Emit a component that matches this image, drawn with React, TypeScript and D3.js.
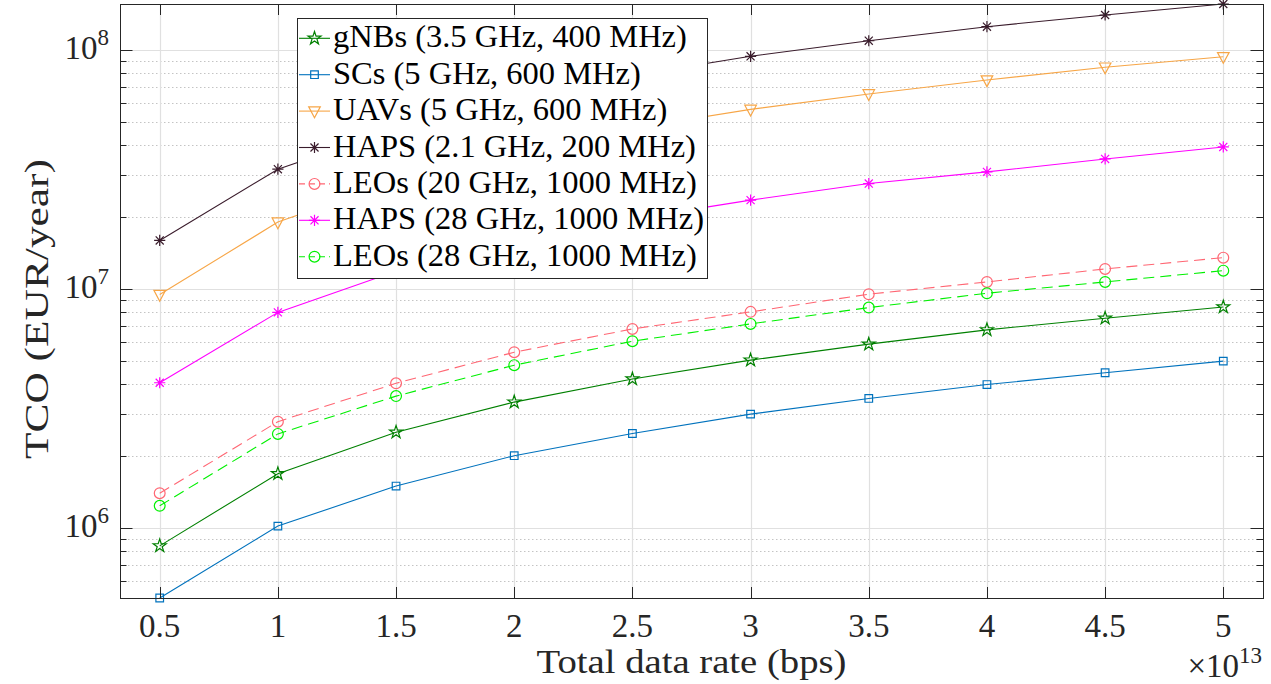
import React from "react";
import * as d3 from "d3";

// Total data rate, in units of 1e13 bps
const rates = [0.5, 1, 1.5, 2, 2.5, 3, 3.5, 4, 4.5, 5];
const rateTickLabels = ["0.5", "1", "1.5", "2", "2.5", "3", "3.5", "4", "4.5", "5"];

// TCO (EUR/year)
const gnbs = [8.43e5, 1.69e6, 2.52e6, 3.37e6, 4.21e6, 5.05e6, 5.89e6, 6.76e6, 7.56e6, 8.43e6];
const scs = [5.1e5, 1.02e6, 1.5e6, 2.01e6, 2.49e6, 3.0e6, 3.49e6, 3.99e6, 4.47e6, 5.0e6];
const uavs = [9.5e6, 1.91e7, 2.84e7, 3.77e7, 4.72e7, 5.66e7, 6.57e7, 7.51e7, 8.5e7, 9.4e7];
const haps21 = [1.6e7, 3.18e7, 4.7e7, 6.3e7, 7.85e7, 9.44e7, 1.097e8, 1.256e8, 1.406e8, 1.563e8];
const leos20 = [1.4e6, 2.79e6, 4.04e6, 5.45e6, 6.82e6, 8.04e6, 9.53e6, 1.073e7, 1.216e7, 1.356e7];
const haps28 = [4.06e6, 8.0e6, 1.19e7, 1.58e7, 1.97e7, 2.36e7, 2.77e7, 3.1e7, 3.51e7, 3.94e7];
const leos28 = [1.24e6, 2.48e6, 3.57e6, 4.81e6, 6.06e6, 7.16e6, 8.38e6, 9.62e6, 1.073e7, 1.196e7];

const yMajorExps = [6, 7, 8];

const SERIES = [
  { name: "gNBs (3.5 GHz, 400 MHz)", values: gnbs, color: "#008000", marker: "star", dash: null },
  { name: "SCs (5 GHz, 600 MHz)", values: scs, color: "#0072BD", marker: "square", dash: null },
  { name: "UAVs (5 GHz, 600 MHz)", values: uavs, color: "#F7A647", marker: "tri", dash: null },
  { name: "HAPS (2.1 GHz, 200 MHz)", values: haps21, color: "#3A1C2C", marker: "asterisk", dash: null },
  { name: "LEOs (20 GHz, 1000 MHz)", values: leos20, color: "#FF6673", marker: "circle", dash: "11,6" },
  { name: "HAPS (28 GHz, 1000 MHz)", values: haps28, color: "#FF00FF", marker: "asterisk", dash: null },
  { name: "LEOs (28 GHz, 1000 MHz)", values: leos28, color: "#00F000", marker: "circle", dash: "11,6" },
];

const W = 1271;
const H = 684;
const BOX = { left: 120, right: 1263, top: 4, bottom: 598 };
const X_LIMITS = [0.332, 5.168];
const FONT = "Liberation Serif, Times New Roman, serif";
const AXIS_COLOR = "#262626";

function drawMarker(g, kind, color) {
  if (kind === "circle") {
    g.append("circle").attr("r", 5.4).attr("fill", "none").attr("stroke", color).attr("stroke-width", 1.2);
  } else if (kind === "square") {
    g.append("path").attr("d", d3.symbol(d3.symbolSquare, 58)()).attr("fill", "none").attr("stroke", color).attr("stroke-width", 1.2);
  } else if (kind === "star") {
    g.append("path").attr("d", d3.symbol(d3.symbolStar, 52)()).attr("fill", "none").attr("stroke", color).attr("stroke-width", 1.2);
  } else if (kind === "tri") {
    g.append("path").attr("d", "M-5.8,-4.2L5.8,-4.2L0,6.6Z").attr("fill", "none").attr("stroke", color).attr("stroke-width", 1.2);
  } else if (kind === "asterisk") {
    const r = 5.6;
    const d = r * 0.72;
    g.append("path")
      .attr("d", `M0,${-r}V${r}M${-r},0H${r}M${-d},${-d}L${d},${d}M${-d},${d}L${d},${-d}`)
      .attr("fill", "none")
      .attr("stroke", color)
      .attr("stroke-width", 1.2);
  }
}

function TcoChart() {
  const ref = React.useRef(null);

  React.useEffect(() => {
    const all = SERIES.flatMap((s) => s.values);
    const x = d3.scaleLinear().domain(X_LIMITS).range([BOX.left, BOX.right]);
    const y = d3.scaleLog().domain(d3.extent(all)).range([BOX.bottom, BOX.top]);
    const [y0, y1] = y.domain();

    d3.select(ref.current).selectAll("*").remove();
    const svg = d3
      .select(ref.current)
      .append("svg")
      .attr("width", W)
      .attr("height", H)
      .attr("viewBox", [0, 0, W, H])
      .attr("font-family", FONT)
      .style("position", "absolute")
      .style("left", 0)
      .style("top", 0);

    svg.append("rect").attr("width", W).attr("height", H).attr("fill", "#fff");

    // minor y grid (dotted)
    const minors = [];
    for (let e = 5; e <= 8; e++) {
      for (let m = 2; m <= 9; m++) {
        const v = m * 10 ** e;
        if (v > y0 && v < y1) minors.push(v);
      }
    }
    const majors = yMajorExps.map((e) => 10 ** e);

    svg
      .append("g")
      .selectAll("line")
      .data(minors)
      .join("line")
      .attr("x1", BOX.left)
      .attr("x2", BOX.right)
      .attr("y1", (d) => Math.round(y(d)) + 0.5)
      .attr("y2", (d) => Math.round(y(d)) + 0.5)
      .attr("stroke", "#c4c4c4")
      .attr("stroke-width", 1)
      .attr("stroke-dasharray", "1.5,2.5");

    // major grid
    svg
      .append("g")
      .selectAll("line")
      .data(majors)
      .join("line")
      .attr("x1", BOX.left)
      .attr("x2", BOX.right)
      .attr("y1", (d) => Math.round(y(d)) + 0.5)
      .attr("y2", (d) => Math.round(y(d)) + 0.5)
      .attr("stroke", "#e0e0e0")
      .attr("stroke-width", 1.2);

    svg
      .append("g")
      .selectAll("line")
      .data(rates)
      .join("line")
      .attr("x1", (d) => Math.round(x(d)) + 0.5)
      .attr("x2", (d) => Math.round(x(d)) + 0.5)
      .attr("y1", BOX.top)
      .attr("y2", BOX.bottom)
      .attr("stroke", "#e0e0e0")
      .attr("stroke-width", 1.2);

    // series lines
    const line = d3
      .line()
      .x((d) => x(d[0]))
      .y((d) => y(d[1]));

    SERIES.forEach((s) => {
      const pts = rates.map((r, i) => [r, s.values[i]]);
      svg
        .append("path")
        .datum(pts)
        .attr("fill", "none")
        .attr("stroke", s.color)
        .attr("stroke-width", 1.1)
        .attr("stroke-dasharray", s.dash)
        .attr("d", line);
      svg
        .append("g")
        .selectAll("g")
        .data(pts)
        .join("g")
        .attr("transform", (d) => `translate(${x(d[0])},${y(d[1])})`)
        .each(function () {
          drawMarker(d3.select(this), s.marker, s.color);
        });
    });

    // axes box and ticks
    const ax = svg.append("g").attr("stroke", AXIS_COLOR).attr("stroke-width", 1).attr("fill", "none");
    ax.append("rect")
      .attr("x", BOX.left + 0.5)
      .attr("y", BOX.top + 0.5)
      .attr("width", BOX.right - BOX.left)
      .attr("height", BOX.bottom - BOX.top);

    rates.forEach((r) => {
      const px = Math.round(x(r)) + 0.5;
      ax.append("line").attr("x1", px).attr("x2", px).attr("y1", BOX.bottom).attr("y2", BOX.bottom - 11);
      ax.append("line").attr("x1", px).attr("x2", px).attr("y1", BOX.top).attr("y2", BOX.top + 11);
    });
    majors.forEach((v) => {
      const py = Math.round(y(v)) + 0.5;
      ax.append("line").attr("x1", BOX.left).attr("x2", BOX.left + 12.5).attr("y1", py).attr("y2", py);
      ax.append("line").attr("x1", BOX.right).attr("x2", BOX.right - 12.5).attr("y1", py).attr("y2", py);
    });
    minors.forEach((v) => {
      const py = Math.round(y(v)) + 0.5;
      ax.append("line").attr("x1", BOX.left).attr("x2", BOX.left + 6.5).attr("y1", py).attr("y2", py);
      ax.append("line").attr("x1", BOX.right).attr("x2", BOX.right - 6.5).attr("y1", py).attr("y2", py);
    });

    // tick labels
    svg
      .append("g")
      .selectAll("text")
      .data(rates)
      .join("text")
      .attr("x", (d) => x(d))
      .attr("y", 637)
      .attr("text-anchor", "middle")
      .attr("font-size", 33)
      .attr("fill", AXIS_COLOR)
      .text((d, i) => rateTickLabels[i]);

    const yl = svg
      .append("g")
      .selectAll("text")
      .data(yMajorExps)
      .join("text")
      .attr("x", 109)
      .attr("y", (e) => y(10 ** e) + 9)
      .attr("text-anchor", "end")
      .attr("font-size", 33)
      .attr("fill", AXIS_COLOR);
    yl.append("tspan").text("10");
    yl.append("tspan").attr("dy", -14).attr("font-size", 23).text((e) => e);

    const mult = svg
      .append("text")
      .attr("x", 1262)
      .attr("y", 677)
      .attr("text-anchor", "end")
      .attr("font-size", 33)
      .attr("fill", AXIS_COLOR);
    mult.append("tspan").text("×10");
    mult.append("tspan").attr("dy", -14).attr("font-size", 23).text("13");

    // axis labels
    svg
      .append("text")
      .attr("x", (BOX.left + BOX.right) / 2)
      .attr("y", 673)
      .attr("text-anchor", "middle")
      .attr("font-size", 34)
      .attr("fill", AXIS_COLOR)
      .attr("textLength", 310)
      .attr("lengthAdjust", "spacingAndGlyphs")
      .text("Total data rate (bps)");

    svg
      .append("text")
      .attr("transform", `translate(48,${(BOX.top + BOX.bottom) / 2 + 8}) rotate(-90)`)
      .attr("text-anchor", "middle")
      .attr("font-size", 34)
      .attr("fill", AXIS_COLOR)
      .attr("textLength", 300)
      .attr("lengthAdjust", "spacingAndGlyphs")
      .text("TCO (EUR/year)");

    // legend
    const lg = svg.append("g");
    lg.append("rect")
      .attr("x", 297.5)
      .attr("y", 18.5)
      .attr("width", 410)
      .attr("height", 260)
      .attr("fill", "#fff")
      .attr("stroke", AXIS_COLOR)
      .attr("stroke-width", 1);
    SERIES.forEach((s, i) => {
      const cy = 38.3 + i * 36.4;
      const row = lg.append("g").attr("transform", `translate(0,${cy})`);
      row
        .append("line")
        .attr("x1", 299)
        .attr("x2", 330)
        .attr("y1", 0)
        .attr("y2", 0)
        .attr("stroke", s.color)
        .attr("stroke-width", 1.1)
        .attr("stroke-dasharray", s.dash ? "6,4" : null);
      drawMarker(row.append("g").attr("transform", "translate(314.5,0)"), s.marker, s.color);
      row
        .append("text")
        .attr("x", 333)
        .attr("y", 9)
        .attr("font-size", 32.5)
        .attr("fill", "#000")
        .text(s.name);
    });
  }, []);

  return <div ref={ref}></div>;
}

export default function App() {
  return <TcoChart />;
}
